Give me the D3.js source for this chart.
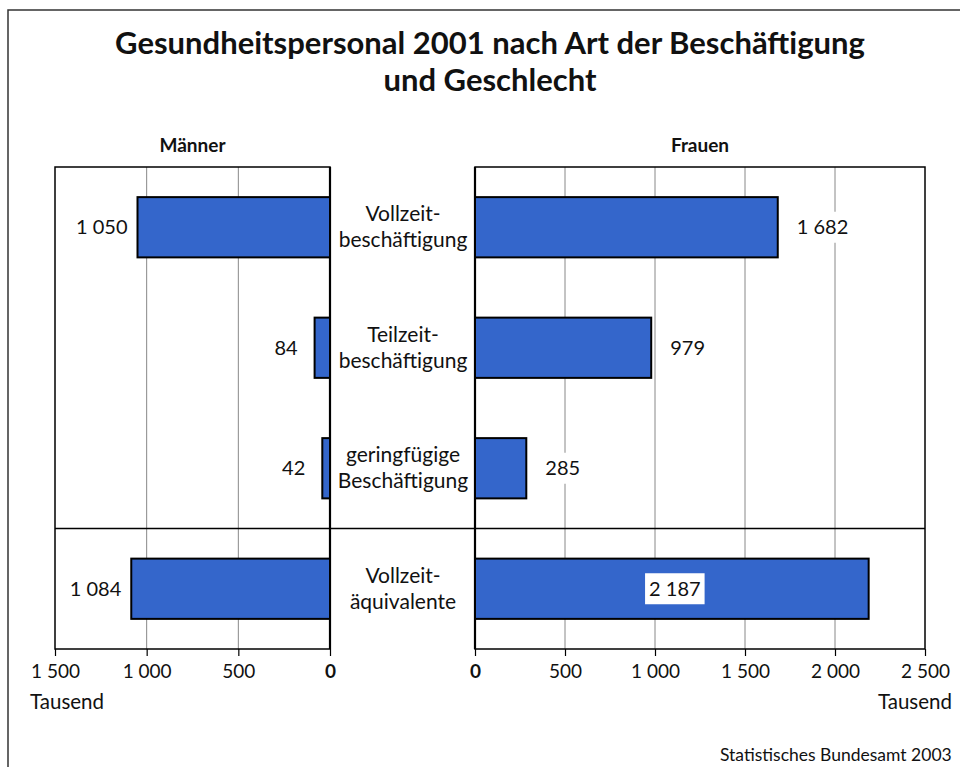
<!DOCTYPE html>
<html><head><meta charset="utf-8">
<script src="https://cdn.jsdelivr.net/npm/d3@7"></script>
<style>body{margin:0;background:#fff}svg{display:block}text{font-family:Lato,"Open Sans",sans-serif;fill:#111}</style>
</head><body>
<script>
const titleLines = ["Gesundheitspersonal 2001 nach Art der Beschäftigung", "und Geschlecht"];
const categories = [["Vollzeit-","beschäftigung"],["Teilzeit-","beschäftigung"],["geringfügige","Beschäftigung"],["Vollzeit-","äquivalente"]];
const maenner = [1050, 84, 42, 1084];
const frauen = [1682, 979, 285, 2187];
const maennerTicks = [1500, 1000, 500, 0];
const frauenTicks = [0, 500, 1000, 1500, 2000, 2500];
const panelTitles = ["Männer", "Frauen"];
const unitLabel = "Tausend";
const source = "Statistisches Bundesamt 2003";

(function () {
const W = 960, H = 767;
const fmt = v => d3.format(",")(v).replace(/,/g, " ");
const svg = d3.select("body").append("svg").attr("width", W).attr("height", H);

svg.append("rect").attr("x", 8).attr("y", 10).attr("width", 1000).attr("height", 1000)
  .attr("fill", "none").attr("stroke", "#333").attr("stroke-width", 1.5);

svg.append("g").selectAll("text").data(titleLines).join("text")
  .attr("x", 490).attr("y", (d, i) => 54 + i * 37)
  .attr("text-anchor", "middle").attr("font-size", 31).attr("font-weight", "bold")
  .text(d => d);

const yTop = 167, yBot = 649;
const y = d3.scaleBand().domain(d3.range(categories.length)).range([yTop, yBot]).paddingInner(0.5).paddingOuter(0.25);
const xL = d3.scaleLinear().domain([1500, 0]).range([55, 330]);
const xR = d3.scaleLinear().domain([0, 2500]).range([475, 925]);
const barColor = "#3466cb";

function panel(x, ticks, vals, title) {
  const g = svg.append("g");
  const [r0, r1] = x.range();
  const dom = x.domain();
  g.selectAll(".grid").data(ticks.filter(t => t !== dom[0] && t !== dom[1])).join("line")
    .attr("x1", d => x(d)).attr("x2", d => x(d)).attr("y1", yTop).attr("y2", yBot)
    .attr("stroke", "#888").attr("stroke-width", 1);
  g.append("rect").attr("x", r0).attr("y", yTop).attr("width", r1 - r0).attr("height", yBot - yTop)
    .attr("fill", "none").attr("stroke", "#000").attr("stroke-width", 1.5);
  g.append("line").attr("x1", x(0)).attr("x2", x(0)).attr("y1", yTop).attr("y2", yBot)
    .attr("stroke", "#000").attr("stroke-width", 2.2);
  const axis = d3.axisBottom(x).tickValues(ticks).tickSize(7).tickPadding(9).tickFormat(fmt);
  const ag = g.append("g").attr("transform", `translate(0,${yBot})`).call(axis);
  ag.select(".domain").remove();
  ag.selectAll(".tick line").attr("stroke", "#000").attr("stroke-width", 1.2);
  ag.selectAll(".tick text").attr("font-size", 19).attr("fill", "#111")
    .attr("font-family", "Lato, sans-serif")
    .attr("font-weight", d => d === 0 ? "bold" : "normal");
  g.append("text").attr("x", (r0 + r1) / 2).attr("y", 152).attr("text-anchor", "middle")
    .attr("font-size", 19).attr("font-weight", "bold").text(title);
  g.selectAll(".bar").data(vals).join("rect")
    .attr("x", d => Math.min(x(0), x(d))).attr("width", d => Math.abs(x(d) - x(0)))
    .attr("y", (d, i) => y(i)).attr("height", y.bandwidth())
    .attr("fill", barColor).attr("stroke", "#000").attr("stroke-width", 2);
  return g;
}
const gL = panel(xL, maennerTicks, maenner, panelTitles[0]);
const gR = panel(xR, frauenTicks, frauen, panelTitles[1]);

gL.selectAll(".val").data(maenner).join("text")
  .attr("x", d => xL(d) - (d < 200 ? 17 : 10)).attr("y", (d, i) => y(i) + y.bandwidth() / 2 + 7)
  .attr("text-anchor", "end").attr("font-size", 20).text(fmt);

frauen.forEach((d, i) => {
  const inside = i === 3;
  const cx = inside ? (xR(0) + xR(d)) / 2 + 3 : xR(d) + 19;
  const cy = y(i) + y.bandwidth() / 2;
  const t = gR.append("text").attr("x", cx).attr("y", cy + 7)
    .attr("text-anchor", inside ? "middle" : "start").attr("font-size", 20).text(fmt(d));
  const bb = t.node().getBBox();
  gR.insert("rect", () => t.node()).attr("x", bb.x - 4).attr("y", cy - 15.5).attr("width", bb.width + 8).attr("height", 31).attr("fill", "#fff");
});

const sepY = y(3) - y.step() * y.paddingInner() / 2;
svg.append("line").attr("x1", 55).attr("x2", 925).attr("y1", sepY).attr("y2", sepY)
  .attr("stroke", "#000").attr("stroke-width", 1.3);

categories.forEach((lines, i) => {
  const cy = y(i) + y.bandwidth() / 2;
  svg.append("text").attr("x", 403).attr("y", cy - 6).attr("text-anchor", "middle").attr("font-size", 21)
    .selectAll("tspan").data(lines).join("tspan").attr("x", 403).attr("dy", (d, j) => j === 0 ? 0 : 26).text(d => d);
});

svg.append("text").attr("x", 30).attr("y", 709).attr("font-size", 20.5).text(unitLabel);
svg.append("text").attr("x", 952).attr("y", 709).attr("text-anchor", "end").attr("font-size", 20.5).text(unitLabel);
svg.append("text").attr("x", 720).attr("y", 761).attr("font-size", 17.5).text(source);
})();
</script>
</body></html>
